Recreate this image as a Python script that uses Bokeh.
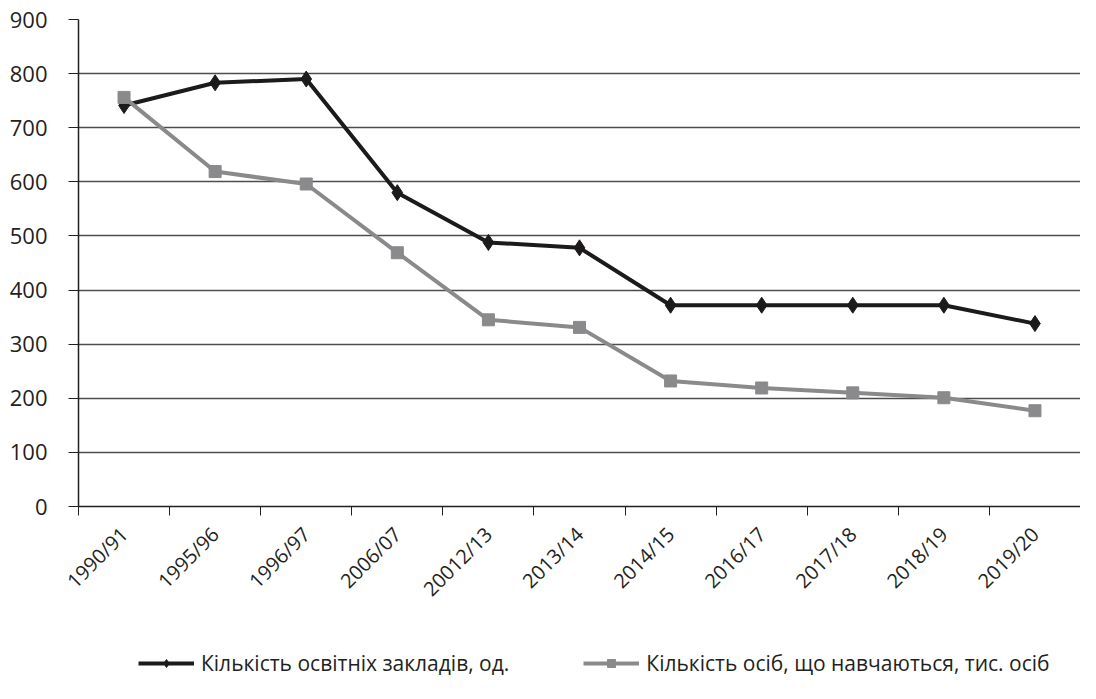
import math
from bokeh.plotting import figure
from bokeh.layouts import column
from bokeh.models import FixedTicker, Range1d, Legend, LegendItem
from bokeh.embed import file_html
from bokeh.resources import INLINE

categories = ["1990/91", "1995/96", "1996/97", "2006/07", "20012/13", "2013/14",
              "2014/15", "2016/17", "2017/18", "2018/19", "2019/20"]
institutions = [741, 783, 790, 580, 488, 478, 372, 372, 372, 372, 338]
students = [756, 619, 596, 469, 345, 331, 232, 219, 210, 201, 177]
y_ticks = [0, 100, 200, 300, 400, 500, 600, 700, 800, 900]
series_names = ["Кількість освітніх закладів, од.",
                "Кількість осіб, що навчаються, тис. осіб"]

FONT = "Open Sans"
BLACK = "#1c1a1b"
GRAY = "#8a8a8c"
INK = "#231f20"

n = len(categories)
xs = [i + 0.5 for i in range(n)]

p = figure(width=1080, height=615, output_backend="svg", toolbar_location=None,
           x_range=Range1d(0, n), y_range=Range1d(0, 900),
           min_border_left=78, min_border_right=0, min_border_top=19,
           min_border_bottom=109)
p.outline_line_color = None
p.background_fill_color = "white"
p.border_fill_color = "white"

# x axis: labels at category centres, tick marks at boundaries (minor ticks)
p.xaxis.ticker = FixedTicker(ticks=xs, minor_ticks=list(range(n + 1)))
p.xaxis.major_label_overrides = {x: c for x, c in zip(xs, categories)}
p.xaxis.major_label_orientation = math.pi / 4
p.xaxis.major_tick_line_color = None
p.xaxis.minor_tick_line_color = INK
p.xaxis.minor_tick_out = 9
p.xaxis.minor_tick_in = 0
p.xaxis.axis_line_color = INK
p.xaxis.axis_line_width = 1.5
p.xaxis.major_label_text_font = FONT
p.xaxis.major_label_text_font_size = "20px"
p.xaxis.major_label_text_color = INK
p.xaxis.major_label_standoff = 15

# y axis
p.yaxis.ticker = FixedTicker(ticks=y_ticks)
p.yaxis.minor_tick_line_color = None
p.yaxis.major_tick_out = 10
p.yaxis.major_tick_in = 0
p.yaxis.major_tick_line_color = INK
p.yaxis.axis_line_color = INK
p.yaxis.axis_line_width = 1.5
p.yaxis.major_label_text_font = FONT
p.yaxis.major_label_text_font_size = "22px"
p.yaxis.major_label_text_color = INK
p.yaxis.major_label_standoff = 21

p.xgrid.grid_line_color = None
p.ygrid.ticker = FixedTicker(ticks=y_ticks)
p.ygrid.grid_line_color = "#4d4d4d"
p.ygrid.grid_line_width = 1.3

p.line(xs, institutions, line_color=BLACK, line_width=4)
p.scatter(xs, institutions, marker="diamond", size=16, fill_color=BLACK, line_color=BLACK)
p.line(xs, students, line_color=GRAY, line_width=4)
p.scatter(xs, students, marker="square", size=12, fill_color=GRAY, line_color=GRAY)

# legend strip below the chart; its ranges keep the series themselves out of view,
# so only the legend entries (glyph samples + labels) are drawn
lf = figure(width=1080, height=68, output_backend="svg", toolbar_location=None,
            x_range=Range1d(-3, -2), y_range=Range1d(-3, -2),
            min_border_left=78, min_border_right=0, min_border_top=0, min_border_bottom=0)
lf.axis.visible = False
lf.grid.visible = False
lf.outline_line_color = None
lf.background_fill_color = "white"
lf.border_fill_color = "white"
k1 = lf.line(xs, institutions, line_color=BLACK, line_width=4)
s1 = lf.scatter(xs, institutions, marker="diamond", size=13, fill_color=BLACK, line_color=BLACK)
k2 = lf.line(xs, students, line_color=GRAY, line_width=4)
s2 = lf.scatter(xs, students, marker="square", size=10, fill_color=GRAY, line_color=GRAY)

legend = Legend(items=[LegendItem(label=series_names[0], renderers=[k1, s1]),
                       LegendItem(label=series_names[1], renderers=[k2, s2])],
                orientation="horizontal", location=(60, 6),
                label_text_font=FONT, label_text_font_size="21px",
                label_text_color=INK, glyph_width=56, glyph_height=20,
                label_standoff=7, spacing=74, margin=0, padding=4,
                border_line_color=None, background_fill_alpha=0)
lf.add_layout(legend, "center")

open("out.html", "w").write(file_html(column(p, lf), INLINE))
